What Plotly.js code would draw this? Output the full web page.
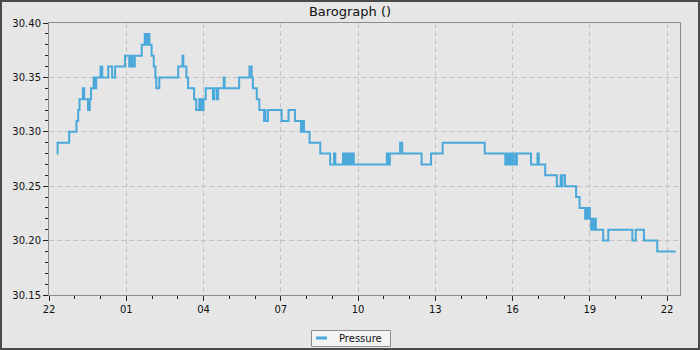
<!DOCTYPE html>
<html>
<head>
<meta charset="utf-8">
<script src="https://cdn.plot.ly/plotly-3.0.1.min.js"></script>
<style>
  html, body { margin: 0; padding: 0; background: #4a4a4a; width: 700px; height: 350px; overflow: hidden; }
  #chart { position: absolute; left: 2px; top: 2px; width: 696px; height: 346px; }
</style>
</head>
<body>
<div id="chart"></div>
<script>
// Barograph readings: clock time (starting 22:00 on day one) and pressure (inHg)
const startDay = "2024-03-01";
const nextDay = "2024-03-02";
const times = [
  "22:18","22:20","22:47","23:04","23:08","23:11","23:19","23:22","23:31","23:35",
  "23:38","23:44","23:46","23:50","00:00","00:04","00:18","00:27","00:34","00:57",
  "01:07","01:11","01:15","01:20","01:36","01:43","01:45","01:47","01:49","01:52",
  "01:54","01:59","02:04","02:08","02:10","02:17","03:01","03:11","03:13","03:20",
  "03:24","03:38","03:43","03:50","03:52","03:55","03:57","04:00","04:05","04:22",
  "04:25","04:31","04:34","04:47","04:49","05:23","05:47","05:52","05:55","06:04",
  "06:10","06:21","06:23","06:24","06:30","07:02","07:18","07:33","07:47","07:48",
  "07:50","07:52","07:54","08:07","08:32","08:55","09:04","09:07","09:25","09:28",
  "09:29","09:33","09:37","09:40","09:42","09:46","09:47","09:50","11:07","11:08",
  "11:10","11:12","11:14","11:38","11:43","12:28","12:50","13:17","14:55",
  "15:43","15:44","15:46","15:48","15:50","15:54","15:56","15:59","16:01","16:06",
  "16:08","16:10","16:43","16:58","17:01","17:16","17:43","17:52","17:54","17:56",
  "18:02","18:28","18:36","18:49","18:52","18:54","18:57","19:00","19:03","19:05",
  "19:08","19:11","19:14","19:31","19:43","20:39","20:47","21:06","21:37","22:20"
];
const pressure = [
  30.28,30.29,30.30,30.31,30.32,30.33,30.34,30.33,30.32,30.33,
  30.34,30.35,30.34,30.35,30.36,30.35,30.36,30.35,30.36,30.37,
  30.36,30.37,30.36,30.37,30.38,30.39,30.38,30.39,30.38,30.39,
  30.38,30.37,30.36,30.35,30.34,30.35,30.36,30.37,30.36,30.35,
  30.34,30.33,30.32,30.33,30.32,30.33,30.32,30.33,30.34,30.33,
  30.34,30.33,30.34,30.35,30.34,30.35,30.36,30.35,30.34,30.33,
  30.32,30.31,30.32,30.31,30.32,30.31,30.32,30.31,30.30,30.31,
  30.30,30.31,30.30,30.29,30.28,30.27,30.28,30.27,30.28,30.27,
  30.28,30.27,30.28,30.27,30.28,30.27,30.28,30.27,30.28,30.27,
  30.28,30.27,30.28,30.29,30.28,30.27,30.28,30.29,30.28,
  30.27,30.28,30.27,30.28,30.27,30.28,30.27,30.28,30.27,30.28,
  30.27,30.28,30.27,30.28,30.27,30.26,30.25,30.26,30.25,30.26,
  30.25,30.24,30.23,30.22,30.23,30.22,30.23,30.22,30.21,30.22,
  30.21,30.22,30.21,30.20,30.21,30.20,30.21,30.20,30.19,30.19
];
const seriesName = "Pressure";
const chartTitle = "Barograph ()";

// attach dates: switch to the next day once the clock wraps past midnight
let day = startDay, prevMin = -1;
const xs = times.map(t => {
  const m = parseInt(t.slice(0, 2), 10) * 60 + parseInt(t.slice(3), 10);
  if (m < prevMin) day = nextDay;
  prevMin = m;
  return day + " " + t;
});

const font = "DejaVu Sans, sans-serif";
const lineColor = "#4aa8da";
const trace = {
  x: xs, y: pressure, name: seriesName, type: "scatter", mode: "lines",
  line: { shape: "hv", color: lineColor, width: 2 }
};

// legend box drawn in paper coordinates (plot area: 631 x 272 px)
const legendBox = { x0: 0.416, x1: 0.5412, y0: -0.1893, y1: -0.1305 };
const legendY = -0.1581;

const layout = {
  width: 696, height: 346,
  margin: { l: 47, r: 18, t: 21, b: 53, autoexpand: false },
  paper_bgcolor: "#e6e6e6", plot_bgcolor: "#e6e6e6",
  font: { family: font, size: 10, color: "#111" },
  title: { text: chartTitle, font: { family: font, size: 13, color: "#111" },
           xref: "container", x: 0.5, xanchor: "center", yref: "container", y: 1 - 9 / 346, yanchor: "middle" },
  showlegend: false,
  shapes: [
    { type: "rect", xref: "paper", yref: "paper", x0: legendBox.x0, x1: legendBox.x1, y0: legendBox.y0, y1: legendBox.y1,
      fillcolor: "#f4f4f4", line: { color: "#8c8c8c", width: 1 }, layer: "above" },
    { type: "line", xref: "paper", yref: "paper", x0: 0.4231, x1: 0.4406, y0: legendY, y1: legendY,
      line: { color: lineColor, width: 3 }, layer: "above" }
  ],
  annotations: [
    { xref: "paper", yref: "paper", x: 0.4564, y: legendY, xanchor: "left", yanchor: "middle",
      text: seriesName, showarrow: false, font: { family: font, size: 10, color: "#111" } }
  ],
  xaxis: {
    type: "date",
    range: [startDay + " 22:00", nextDay + " 22:30"],
    tick0: startDay + " 22:00", dtick: 3 * 3600000, tickformat: "%H",
    ticks: "outside", ticklen: 5, tickcolor: "#222",
    showline: true, linecolor: "#8c8c8c", linewidth: 1, mirror: true,
    showgrid: true, gridcolor: "#c2c2c2", griddash: "5px,3px", gridwidth: 1,
    zeroline: false,
    minor: { dtick: 3600000, tick0: startDay + " 22:00", ticks: "outside", ticklen: 3, tickcolor: "#222", showgrid: false },
    tickfont: { family: font, size: 10, color: "#111" }
  },
  yaxis: {
    range: [30.15, 30.40], dtick: 0.05, tick0: 30.15, tickformat: ".2f",
    ticks: "outside", ticklen: 5, tickcolor: "#222",
    showline: true, linecolor: "#8c8c8c", linewidth: 1, mirror: true,
    showgrid: true, gridcolor: "#c2c2c2", griddash: "5px,3px", gridwidth: 1,
    zeroline: false,
    minor: { dtick: 0.01, ticks: "outside", ticklen: 3, tickcolor: "#222", showgrid: false },
    tickfont: { family: font, size: 10, color: "#111" }
  }
};

Plotly.newPlot("chart", [trace], layout, { displayModeBar: false, staticPlot: true });
</script>
</body>
</html>
